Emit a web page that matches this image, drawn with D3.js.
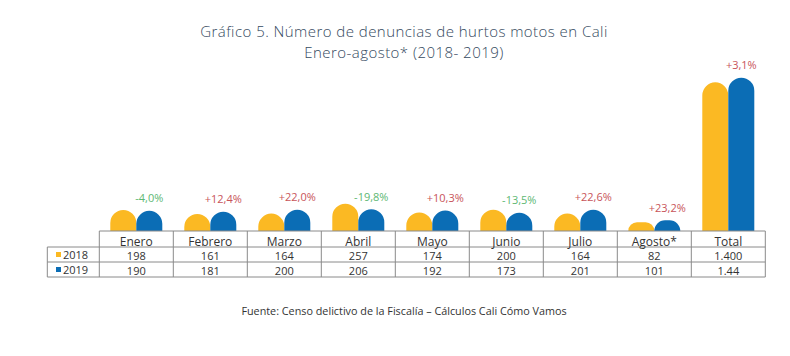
<!DOCTYPE html>
<html><head><meta charset="utf-8">
<script src="https://cdn.jsdelivr.net/npm/d3@7"></script>
<style>
body{margin:0;background:#fff;}
svg{display:block;}
text{font-family:"Open Sans",sans-serif;}
</style></head>
<body>
<svg id="chart" width="790" height="356"></svg>
<script>
const categories = ["Enero","Febrero","Marzo","Abril","Mayo","Junio","Julio","Agosto*","Total"];
const values2018 = [198,161,164,257,174,200,164,82,1400];
const values2019 = [190,181,200,206,192,173,201,101,1444];
const labels2018 = ["198","161","164","257","174","200","164","82","1.400"];
const labels2019 = ["190","181","200","206","192","173","201","101","1.44"];
const changes = ["-4,0%","+12,4%","+22,0%","-19,8%","+10,3%","-13,5%","+22,6%","+23,2%","+3,1%"];
const seriesNames = ["2018","2019"];

const colors = {"2018":"#FBB923","2019":"#0B6DB5"};
const svg = d3.select("#chart");

const baseline = 231;
const x = d3.scaleBand().domain(categories).range([99.3, 765.3]).padding(0);
const y = d3.scaleLinear().domain([0, 1444]).range([baseline, 77.7]);
const barW = 26;
const inner = d3.scaleBand().domain(seriesNames).range([0, barW*2]);

function barPath(x0, w, yTop) {
  const h = baseline - yTop;
  const r = Math.min(w/2, h);
  return `M${x0},${baseline}V${yTop + r}A${r},${r} 0 0 1 ${x0 + r},${yTop}H${x0 + w - r}A${r},${r} 0 0 1 ${x0 + w},${yTop + r}V${baseline}Z`;
}

// title
svg.append("text").attr("x", 404).attr("y", 37).attr("text-anchor","middle")
  .attr("font-size", 15).attr("font-weight", 300).attr("letter-spacing", 0.45).attr("fill", "#34495E")
  .text("Gráfico 5. Número de denuncias de hurtos motos en Cali");
svg.append("text").attr("x", 404).attr("y", 57.5).attr("text-anchor","middle")
  .attr("font-size", 15).attr("font-weight", 300).attr("letter-spacing", 0.45).attr("fill", "#34495E")
  .text("Enero-agosto* (2018- 2019)");

// bars
const data = categories.map((c,i)=>({cat:c, vals:{"2018":values2018[i],"2019":values2019[i]}, change:changes[i]}));
const groups = svg.append("g").selectAll("g").data(data).join("g")
  .attr("transform", d => `translate(${x(d.cat) + (x.bandwidth() - barW*2)/2},0)`);
groups.selectAll("path").data(d => seriesNames.map(s => ({s, v:d.vals[s]}))).join("path")
  .attr("d", d => barPath(inner(d.s), inner.bandwidth(), y(d.v)))
  .attr("fill", d => colors[d.s]);

// change labels
groups.append("text")
  .attr("x", inner("2019") + barW/2)
  .attr("y", d => y(d.vals["2019"]) - 8.5)
  .attr("text-anchor","middle").attr("font-size", 11)
  .attr("fill", d => d.change.startsWith("-") ? "#5DB873" : "#C8545A")
  .text(d => d.change);

// table
const rows = [231, 247, 262, 277];
const tbl = svg.append("g").attr("stroke", "#8a8a8a").attr("stroke-width", 1).attr("fill","none");
const left = 47.3, colStart = x.range()[0], right = x.range()[1];
tbl.append("line").attr("x1", colStart).attr("x2", right).attr("y1", rows[0]).attr("y2", rows[0]);
[1,2,3].forEach(i => tbl.append("line").attr("x1", left).attr("x2", right).attr("y1", rows[i]).attr("y2", rows[i]));
tbl.append("line").attr("x1", left).attr("x2", left).attr("y1", rows[1]).attr("y2", rows[3]);
categories.forEach(c => tbl.append("line").attr("x1", x(c)).attr("x2", x(c)).attr("y1", rows[0]).attr("y2", rows[3]));
tbl.append("line").attr("x1", right).attr("x2", right).attr("y1", rows[0]).attr("y2", rows[3]);

const txt = svg.append("g").attr("fill", "#333").attr("text-anchor","middle");
categories.forEach((c,i) => {
  const cx = x(c) + x.bandwidth()/2;
  txt.append("text").attr("x", cx).attr("y", 245.5).attr("font-size", 12).text(c);
  txt.append("text").attr("x", cx).attr("y", 260).attr("font-size", 11).text(labels2018[i]);
  txt.append("text").attr("x", cx).attr("y", 275).attr("font-size", 11).text(labels2019[i]);
});
seriesNames.forEach((s,i) => {
  const yc = i === 0 ? 254.5 : 269.5;
  svg.append("rect").attr("x", 56).attr("y", yc - 2.5).attr("width", 5).attr("height", 5).attr("fill", colors[s]);
  svg.append("text").attr("x", 63).attr("y", yc + 4).attr("font-size", 11).attr("fill", "#333").text(s);
});

// source
svg.append("text").attr("x", 404).attr("y", 315).attr("text-anchor","middle")
  .attr("font-size", 10.8).attr("fill", "#333")
  .text("Fuente: Censo delictivo de la Fiscalía – Cálculos Cali Cómo Vamos");
</script>
</body></html>
